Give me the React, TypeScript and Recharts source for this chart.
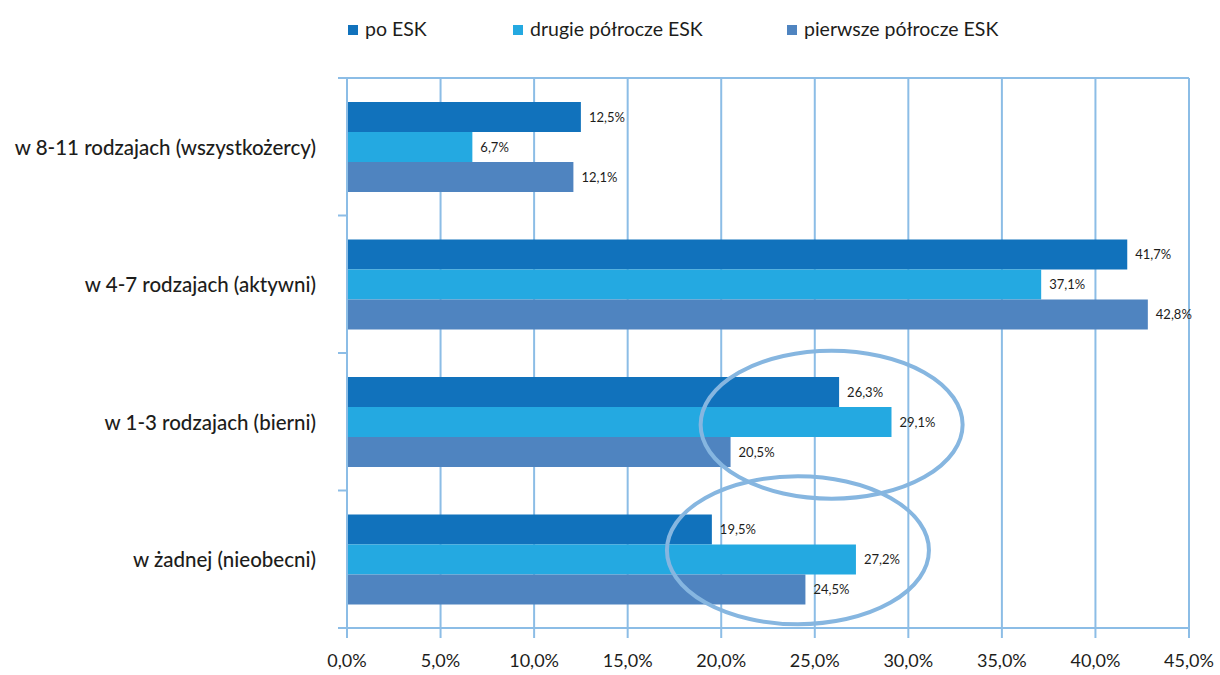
import { BarChart, Bar, XAxis, YAxis, CartesianGrid, LabelList, ReferenceDot } from "recharts";

const categories = [
  "w 8-11 rodzajach (wszystkożercy)",
  "w 4-7 rodzajach (aktywni)",
  "w 1-3 rodzajach (bierni)",
  "w żadnej (nieobecni)",
];
const poEsk = [12.5, 41.7, 26.3, 19.5];
const drugiePolrocze = [6.7, 37.1, 29.1, 27.2];
const pierwszePolrocze = [12.1, 42.8, 20.5, 24.5];
const xTicks = [0, 5, 10, 15, 20, 25, 30, 35, 40, 45];

const seriesNames = ["po ESK", "drugie półrocze ESK", "pierwsze półrocze ESK"];
const seriesColors = ["#1172bc", "#24a9e1", "#4f84c0"];

// highlighted groups (ellipse annotations): centre value on x axis, category
const highlights = [
  { x: 25.9, category: "w 1-3 rodzajach (bierni)", dy: 3 },
  { x: 24.1, category: "w żadnej (nieobecni)", dy: -9 },
];

const data = categories.map((name, i) => ({
  name,
  po: poEsk[i],
  drugie: drugiePolrocze[i],
  pierwsze: pierwszePolrocze[i],
}));
const keys = ["po", "drugie", "pierwsze"];

const gridColor = "#8cbde6";
const textColor = "#1d1d1b";
const font = "Lato, 'Noto Sans', sans-serif";
const legendLeft = [348, 513, 787];

const pct = (v: number) => v.toFixed(1).replace(".", ",") + "%";

function CategoryTick(props: any) {
  const { x, y, payload, index } = props;
  const half = payload.offset || 0;
  const axisX = x + 31;
  return (
    <g>
      <line x1={axisX - 9} x2={axisX} y1={y - half} y2={y - half} stroke={gridColor} strokeWidth={2} />
      {index === categories.length - 1 && (
        <line x1={axisX - 9} x2={axisX} y1={y + half} y2={y + half} stroke={gridColor} strokeWidth={2} />
      )}
      <text x={x} y={y} textAnchor="end" dominantBaseline="central" fontSize={20.5} fontWeight={500} fill={textColor} fontFamily={font}>
        {payload.value}
      </text>
    </g>
  );
}

function Ellipse(props: any) {
  const { cx, cy, dy } = props;
  return <ellipse cx={cx} cy={cy + dy} rx={131} ry={74} fill="none" stroke="#86b6e0" strokeWidth={4} />;
}

export default function App() {
  return (
    <div style={{ position: "absolute", left: 0, top: 0, width: 1220, height: 675, background: "#fff", fontFamily: font }}>
      {seriesNames.map((n, i) => (
        <div
          key={n}
          style={{ position: "absolute", top: 17, left: legendLeft[i], display: "flex", alignItems: "center", fontSize: 19.5, color: textColor }}
        >
          <span style={{ display: "inline-block", width: 10, height: 10, background: seriesColors[i], marginRight: 7, marginTop: 2 }} />
          {n}
        </div>
      ))}
      <BarChart
        width={1220}
        height={675}
        data={data}
        layout="vertical"
        margin={{ top: 78, right: 31, bottom: 0, left: 0 }}
        barSize={30}
        barGap={0}
      >
        <CartesianGrid stroke={gridColor} strokeWidth={2} horizontalPoints={[78]} />
        <XAxis
          type="number"
          domain={[0, 45]}
          ticks={xTicks}
          tickFormatter={pct}
          height={47}
          tickSize={10}
          tickMargin={16}
          axisLine={{ stroke: gridColor, strokeWidth: 2 }}
          tickLine={{ stroke: gridColor, strokeWidth: 2 }}
          tick={{ fontSize: 18, fill: textColor, fontFamily: font }}
        />
        <YAxis
          type="category"
          dataKey="name"
          width={347}
          tickSize={0}
          tickMargin={31}
          tickLine={false}
          axisLine={{ stroke: gridColor, strokeWidth: 2 }}
          tick={<CategoryTick />}
        />
        {keys.map((k, i) => (
          <Bar key={k} dataKey={k} name={seriesNames[i]} fill={seriesColors[i]} isAnimationActive={false}>
            <LabelList
              dataKey={k}
              position="right"
              offset={8}
              formatter={(v: any) => pct(Number(v))}
              style={{ fontSize: 13, fill: textColor, fontFamily: font }}
            />
          </Bar>
        ))}
        {highlights.map((h, i) => (
          <ReferenceDot
            key={i}
            x={h.x}
            y={h.category}
            ifOverflow="visible"
            shape={(p: any) => <Ellipse {...p} dy={h.dy} />}
          />
        ))}
      </BarChart>
    </div>
  );
}
